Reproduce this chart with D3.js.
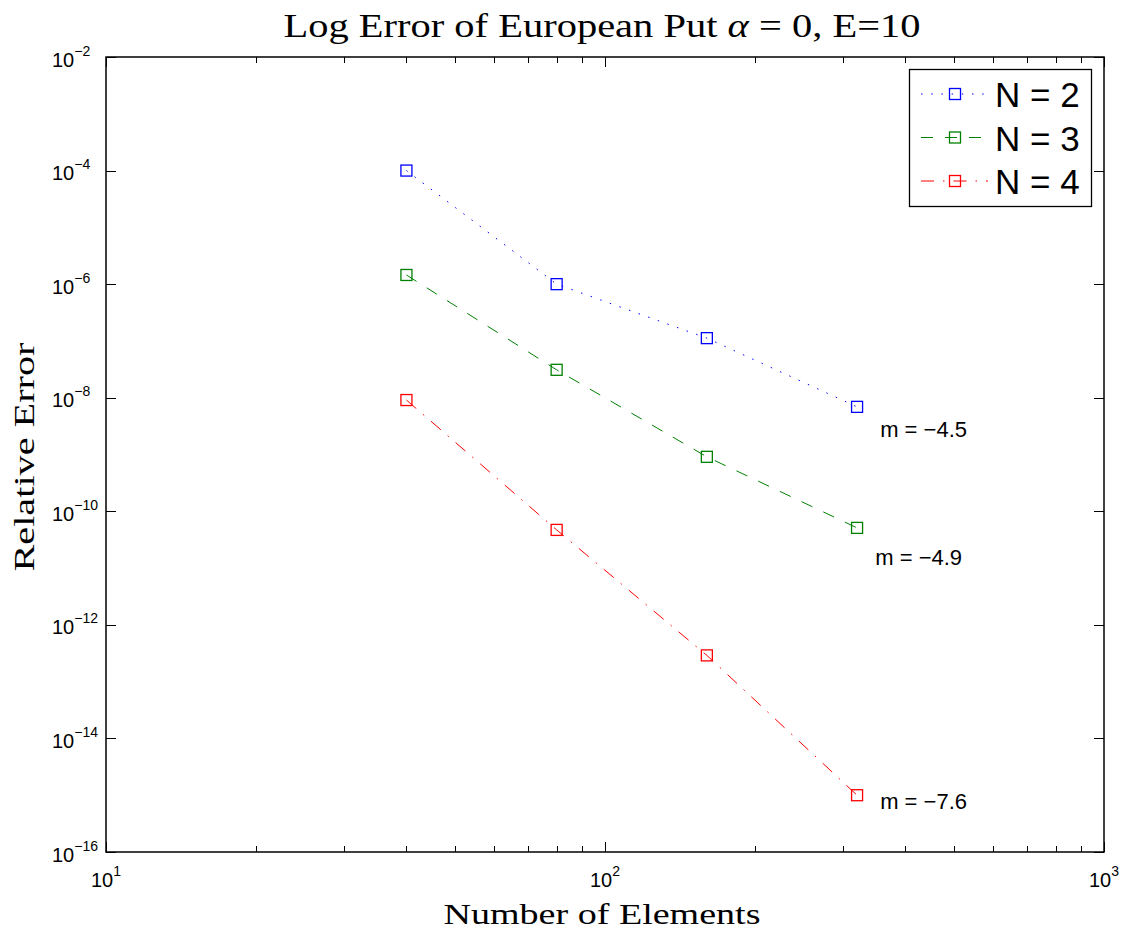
<!DOCTYPE html>
<html>
<head>
<meta charset="utf-8">
<script src="https://cdn.jsdelivr.net/npm/d3@7/dist/d3.min.js"></script>
<style>
  html, body { margin: 0; padding: 0; background: #fff; }
  svg { display: block; }
</style>
</head>
<body>
<svg id="chart" width="1132" height="933"></svg>
<script>
// Number of elements on the mesh
const elements = [40, 80, 160, 320];

// Relative error for each polynomial order N
const errN2 = [1.0e-4, 1.0e-6, 1.12e-7, 6.9e-9];
const errN3 = [1.45e-6, 3.1e-8, 9.1e-10, 5.1e-11];
const errN4 = [9.1e-9, 4.7e-11, 2.9e-13, 1.0e-15];

const seriesNames = ["N = 2", "N = 3", "N = 4"];
const seriesColors = ["#0000ff", "#008000", "#ff0000"];
const seriesDash = ["1.5,8.7", "12,12", "13,9,1.5,9"];

// Convergence slope annotations (placed in data coordinates)
const slopeLabels = ["m = \u22124.5", "m = \u22124.9", "m = \u22127.6"];
const slopeLabelX = [356, 348, 356];
const slopeLabelY = [2.0e-9, 1.15e-11, 5.7e-16];

// Axis ticks (powers of ten)
const xTickExponents = [1, 2, 3];
const yTickExponents = [-2, -4, -6, -8, -10, -12, -14, -16];

const series = [errN2, errN3, errN4];

const svg = d3.select("#chart");
const margin = { left: 106, right: 28, top: 57, bottom: 81 };
const W = 1132, H = 933;
const x0 = margin.left, x1 = W - margin.right;
const y0 = margin.top, y1 = H - margin.bottom;

const x = d3.scaleLog().domain([10, 1000]).range([x0, x1]);
const y = d3.scaleLog().domain([1e-16, 1e-2]).range([y1, y0]);

const sansFont = "'Liberation Sans', Arial, Helvetica, sans-serif";
const serifFont = "'Liberation Serif', 'Times New Roman', serif";

// Tick marks (inward, on all four sides)
const xMinor = [];
for (let d = 10; d < 1000; d *= 10) {
  for (let k = 2; k <= 9; k++) xMinor.push(d * k);
}
const xMajor = xTickExponents.map(e => Math.pow(10, e));
const yMajor = yTickExponents.map(e => Math.pow(10, e));

const ticks = svg.append("g").attr("stroke", "#000").attr("stroke-width", 1);
const majorLen = 10, minorLen = 6;
xMajor.concat(xMinor).forEach(v => {
  const len = xMajor.includes(v) ? majorLen : minorLen;
  const px = Math.round(x(v)) + 0.5;
  ticks.append("line").attr("x1", px).attr("x2", px).attr("y1", y1).attr("y2", y1 - len);
  ticks.append("line").attr("x1", px).attr("x2", px).attr("y1", y0).attr("y2", y0 + len);
});
yMajor.forEach(v => {
  const py = Math.round(y(v)) + 0.5;
  ticks.append("line").attr("x1", x0).attr("x2", x0 + majorLen).attr("y1", py).attr("y2", py);
  ticks.append("line").attr("x1", x1).attr("x2", x1 - majorLen).attr("y1", py).attr("y2", py);
});

// Axes box
svg.append("rect")
  .attr("x", x0).attr("y", y0)
  .attr("width", x1 - x0).attr("height", y1 - y0)
  .attr("fill", "none").attr("stroke", "#000").attr("stroke-width", 1.5);

// Tick labels: 10 with superscript exponent
function powerLabel(g, exp, px, py, anchor) {
  const t = g.append("text")
    .attr("x", px).attr("y", py)
    .attr("text-anchor", anchor)
    .attr("font-family", sansFont)
    .attr("font-size", 20)
    .attr("fill", "#000");
  t.append("tspan").text("10");
  t.append("tspan").attr("dy", -11).attr("font-size", 14)
    .text(exp < 0 ? "\u2212" + Math.abs(exp) : String(exp));
}
const labels = svg.append("g");
xTickExponents.forEach(e => powerLabel(labels, e, x(Math.pow(10, e)), y1 + 35, "middle"));
yTickExponents.forEach(e => powerLabel(labels, e, x0 - 54, y(Math.pow(10, e)) + 9.5, "start"));

// Data lines and markers
const line = d3.line().x((d, i) => x(elements[i])).y(d => y(d));
series.forEach((vals, si) => {
  const g = svg.append("g");
  g.append("path")
    .attr("d", line(vals))
    .attr("fill", "none")
    .attr("stroke", seriesColors[si])
    .attr("stroke-width", 1)
    .attr("stroke-dasharray", seriesDash[si]);
  g.selectAll("rect").data(vals).join("rect")
    .attr("x", (d, i) => x(elements[i]) - 5.5)
    .attr("y", d => y(d) - 5.5)
    .attr("width", 11).attr("height", 11)
    .attr("fill", "none")
    .attr("stroke", seriesColors[si])
    .attr("stroke-width", 1.3);
});

// Slope annotations
slopeLabels.forEach((s, i) => {
  svg.append("text")
    .attr("x", x(slopeLabelX[i])).attr("y", y(slopeLabelY[i]))
    .attr("font-family", sansFont).attr("font-size", 22)
    .attr("fill", "#000").text(s);
});

// Legend
const legend = svg.append("g");
legend.append("rect")
  .attr("x", 909.5).attr("y", 69.5).attr("width", 182).attr("height", 137)
  .attr("fill", "#fff").attr("stroke", "#000").attr("stroke-width", 1.3);
seriesNames.forEach((name, i) => {
  const ly = 94 + i * 43.5;
  legend.append("line")
    .attr("x1", 921).attr("x2", 988).attr("y1", ly).attr("y2", ly)
    .attr("stroke", seriesColors[i]).attr("stroke-width", 1)
    .attr("stroke-dasharray", seriesDash[i]);
  legend.append("rect")
    .attr("x", 955 - 5.5).attr("y", ly - 5.5).attr("width", 11).attr("height", 11)
    .attr("fill", "none").attr("stroke", seriesColors[i]).attr("stroke-width", 1.3);
  legend.append("text")
    .attr("x", 995).attr("y", ly + 13)
    .attr("font-family", sansFont).attr("font-size", 35)
    .attr("fill", "#000").text(name);
});

// Title and axis titles (glyphs widened to the look of a TeX serif)
const title = svg.append("text")
  .attr("x", 602).attr("y", 37)
  .attr("text-anchor", "middle")
  .attr("font-family", serifFont).attr("font-size", 33).attr("fill", "#000")
  .attr("textLength", 637).attr("lengthAdjust", "spacingAndGlyphs");
title.append("tspan").text("Log Error of European Put ");
title.append("tspan").attr("font-style", "italic").text("\u03b1");
title.append("tspan").text(" = 0, E=10");

svg.append("text")
  .attr("x", 602).attr("y", 924)
  .attr("text-anchor", "middle")
  .attr("font-family", serifFont).attr("font-size", 30).attr("fill", "#000")
  .attr("textLength", 317).attr("lengthAdjust", "spacingAndGlyphs")
  .text("Number of Elements");

svg.append("text")
  .attr("transform", "translate(34,457) rotate(-90)")
  .attr("text-anchor", "middle")
  .attr("font-family", serifFont).attr("font-size", 30).attr("fill", "#000")
  .attr("textLength", 229).attr("lengthAdjust", "spacingAndGlyphs")
  .text("Relative Error");
</script>
</body>
</html>
